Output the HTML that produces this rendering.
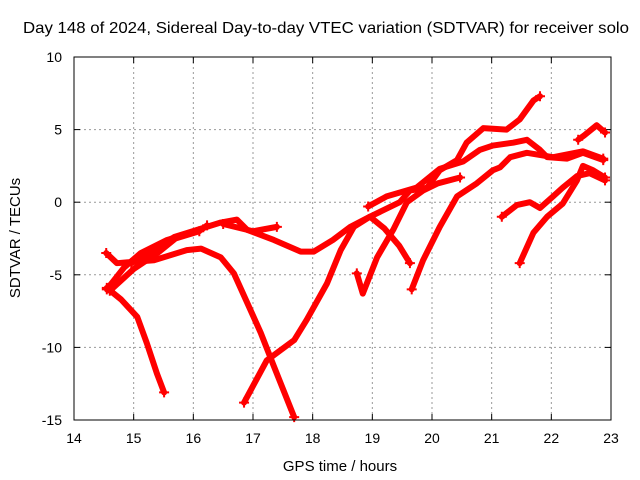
<!DOCTYPE html>
<html><head><meta charset="utf-8"><style>
html,body{margin:0;padding:0;background:#fff;}
svg{display:block;font-family:"Liberation Sans",sans-serif;}
</style></head><body>
<svg id="chart" width="640" height="480" viewBox="0 0 640 480">
<text x="326" y="33" font-size="16" text-anchor="middle" textLength="606" lengthAdjust="spacingAndGlyphs">Day 148 of 2024, Sidereal Day-to-day VTEC variation (SDTVAR) for receiver solo</text>
<text x="340" y="471" font-size="15" text-anchor="middle">GPS time / hours</text>
<text transform="translate(20,238) rotate(-90)" font-size="15" text-anchor="middle">SDTVAR / TECUs</text>
<g id="grid"></g>
<g id="ticks"></g>
<g id="series"></g>
<rect x="74" y="57" width="537" height="363" fill="none" stroke="#000" stroke-width="1"/>
</svg>
<script>
const xTicks=[14,15,16,17,18,19,20,21,22,23];
const yTicks=[-15,-10,-5,0,5,10];
const trackA=[[14.54,-3.5],[14.72,-4.2],[15.34,-4.0],[15.89,-3.3],[16.13,-3.2],[16.46,-3.8],[16.68,-4.9],[16.9,-6.9],[17.13,-9.0],[17.35,-11.3],[17.69,-14.8]];
const trackB=[[14.55,-5.9],[14.79,-6.7],[15.06,-7.9],[15.22,-9.7],[15.39,-11.8],[15.51,-13.1]];
const trackC=[[14.55,-6.0],[14.84,-4.5],[15.12,-3.5],[15.56,-2.6],[16.13,-1.9],[16.23,-1.6]];
const trackC2=[[14.6,-6.1],[15.0,-4.6],[15.4,-3.5],[15.7,-2.5],[16.1,-2.0]];
const trackD=[[14.96,-4.2],[15.68,-2.4],[16.46,-1.4],[16.73,-1.2],[16.9,-1.9],[17.35,-2.6],[17.8,-3.4],[18.02,-3.4],[18.34,-2.6],[18.63,-1.7],[18.96,-1.0],[19.2,-1.8],[19.45,-3.0],[19.63,-4.2]];
const trackE=[[16.5,-1.5],[17.0,-2.0],[17.4,-1.7]];
const trackF=[[16.85,-13.8],[17.23,-10.9],[17.69,-9.5],[17.9,-8.1],[18.24,-5.6],[18.47,-3.3],[18.69,-1.7],[18.96,-1.0],[19.46,0.0],[19.63,0.8],[19.92,1.0],[20.13,2.2],[20.42,2.9],[20.58,4.1],[20.86,5.1],[21.25,5.0],[21.47,5.7],[21.7,7.0],[21.81,7.3]];
const trackG=[[18.74,-4.9],[18.84,-6.3],[19.08,-3.8],[19.35,-1.9],[19.58,0.0],[19.85,0.8],[20.1,1.3],[20.47,1.7]];
const trackH=[[18.93,-0.3],[19.24,0.4],[19.74,1.0],[20.13,2.3],[20.52,2.8],[20.8,3.6],[21.02,3.9],[21.36,4.1],[21.59,4.3],[21.81,3.6],[21.93,3.1],[22.26,3.0],[22.53,3.4],[22.87,2.9]];
const trackI=[[19.66,-6.0],[19.85,-4.0],[20.13,-1.7],[20.42,0.4],[20.75,1.3],[21.02,2.2],[21.14,2.4],[21.31,3.1],[21.59,3.4],[22.03,3.1],[22.53,3.5],[22.87,3.0]];
const trackJ=[[21.17,-1.0],[21.42,-0.2],[21.64,0.0],[21.81,-0.4],[22.03,0.4],[22.19,1.0],[22.43,1.8],[22.64,2.0],[22.9,1.5]];
const trackK=[[21.47,-4.2],[21.7,-2.1],[21.93,-1.0],[22.19,-0.1],[22.43,1.5],[22.53,2.5],[22.7,2.2],[22.9,1.7]];
const trackL=[[22.45,4.3],[22.55,4.6],[22.76,5.3],[22.9,4.8]];
const tracks=[trackA,trackB,trackC,trackC2,trackD,trackE,trackF,trackG,trackH,trackI,trackJ,trackK,trackL];
const NS='http://www.w3.org/2000/svg';
const X=v=>74+(v-14)*537/9;
const Y=v=>420-(v+15)*363/25;
const grid=document.getElementById('grid'),ticks=document.getElementById('ticks'),series=document.getElementById('series');
function mk(tag,attrs,parent){const e=document.createElementNS(NS,tag);for(const k in attrs)e.setAttribute(k,attrs[k]);parent.appendChild(e);return e;}
xTicks.forEach(t=>{
  if(t>14&&t<23){const g=mk('line',{x1:X(t),x2:X(t),y1:57,y2:420,stroke:'#999','stroke-dasharray':'2,3'},grid);
  
  }
  mk('line',{x1:X(t),x2:X(t),y1:420,y2:414,stroke:'#000'},ticks);
  mk('line',{x1:X(t),x2:X(t),y1:57,y2:63,stroke:'#000'},ticks);
  const l=mk('text',{x:X(t),y:443,'font-size':14,'text-anchor':'middle'},ticks);l.textContent=t;
  
  
});
yTicks.forEach(t=>{
  if(t>-15&&t<10){const g=mk('line',{x1:74,x2:611,y1:Y(t),y2:Y(t),stroke:'#999','stroke-dasharray':'2,3'},grid);
  
  }
  mk('line',{x1:74,x2:80,y1:Y(t),y2:Y(t),stroke:'#000'},ticks);
  mk('line',{x1:611,x2:605,y1:Y(t),y2:Y(t),stroke:'#000'},ticks);
  const l=mk('text',{x:62,y:Y(t)+5,'font-size':14,'text-anchor':'end'},ticks);l.textContent=t;
  
  
});
tracks.forEach((tr,i)=>{
  const p=mk('polyline',{points:tr.map(d=>X(d[0])+','+Y(d[1])).join(' '),fill:'none',stroke:'#f00','stroke-width':6,'stroke-linejoin':'round','stroke-linecap':'round'},series);
  
  
  [tr[0],tr[tr.length-1]].forEach(d=>{
    const x=X(d[0]),y=Y(d[1]);
    const m=mk('path',{d:`M${x-5},${y}H${x+5}M${x},${y-5}V${y+5}`,stroke:'#f00','stroke-width':2},series);
    
    
  });
});
</script>
</body></html>
